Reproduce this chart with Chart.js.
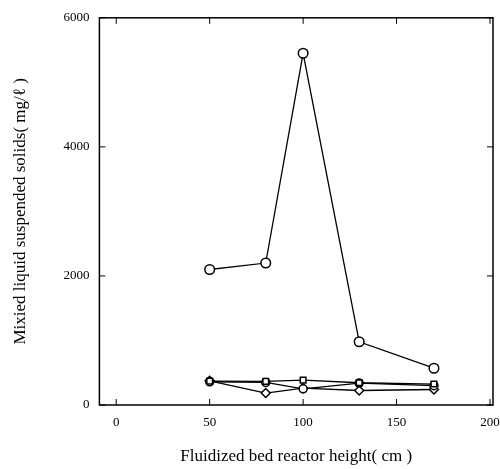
<!DOCTYPE html>
<html>
<head>
<meta charset="utf-8">
<script src="https://cdn.jsdelivr.net/npm/chart.js@4"></script>
<style>
  html, body { margin: 0; padding: 0; background: #fff; }
  #wrap { width: 500px; height: 469px; }
</style>
</head>
<body>
<div id="wrap"><canvas id="grafico"></canvas></div>
<script>
// datos
const alturas = [50, 80, 100, 130, 170];
const serieCirculo = [2100, 2200, 5450, 980, 570];
const serieCuadro = [370, 365, 385, 345, 325];
const serieLleno = [360, 350, 250, 340, 300];
const serieRombo = [375, 185, 260, 225, 240];
const ticksX = [0, 50, 100, 150, 200];
const ticksY = [0, 2000, 4000, 6000];

const fuente = "'Liberation Serif', 'DejaVu Serif', serif";

function serie(data, estilo, radio) {
  return {
    data: alturas.map((x, i) => ({ x: x, y: data[i] })),
    borderColor: "#000",
    borderWidth: 1.3,
    pointStyle: estilo,
    pointRadius: radio,
    pointBackgroundColor: "#fff",
    pointBorderColor: "#000",
    pointBorderWidth: 1.5,
    tension: 0,
  };
}

// marco y ticks hacia adentro
const marco = {
  id: "marco",
  afterDraw(chart) {
    const ctx = chart.ctx;
    const a = chart.chartArea;
    const sx = chart.scales.x, sy = chart.scales.y;
    ctx.save();
    ctx.strokeStyle = "#000";
    ctx.lineWidth = 1.5;
    ctx.strokeRect(a.left, a.top, a.right - a.left, a.bottom - a.top);
    ctx.lineWidth = 1;
    ctx.beginPath();
    ticksX.forEach((v) => {
      const px = sx.getPixelForValue(v);
      ctx.moveTo(px, a.bottom); ctx.lineTo(px, a.bottom - 6);
      ctx.moveTo(px, a.top); ctx.lineTo(px, a.top + 6);
    });
    ticksY.forEach((v) => {
      const py = sy.getPixelForValue(v);
      ctx.moveTo(a.left, py); ctx.lineTo(a.left + 6, py);
      ctx.moveTo(a.right, py); ctx.lineTo(a.right - 6, py);
    });
    ctx.stroke();
    ctx.restore();
  },
};

new Chart(document.getElementById("grafico"), {
  type: "line",
  data: {
    datasets: [
      serie(serieCirculo, "circle", 4.8),
      serie(serieCuadro, "rect", 4),
      serie(serieLleno, "circle", 4),
      serie(serieRombo, "rectRot", 4.5),
    ],
  },
  options: {
    responsive: true,
    maintainAspectRatio: false,
    animation: false,
    layout: { padding: { top: 9, right: 7, left: 10, bottom: 2 } },
    plugins: { legend: { display: false }, tooltip: { enabled: false } },
    scales: {
      x: {
        type: "linear",
        min: -9,
        max: 201.6,
        afterBuildTicks: (s) => { s.ticks = ticksX.map((v) => ({ value: v })); },
        afterFit: (s) => { s.paddingRight = 0; s.paddingLeft = 0; },
        grid: { display: false, drawTicks: false },
        border: { display: false },
        ticks: { color: "#000", padding: 10, callback: (v) => String(v), font: { family: fuente, size: 13 } },
        title: {
          display: true,
          text: "Fluidized bed reactor height( cm )",
          color: "#000",
          padding: { top: 6, bottom: 0 },
          font: { family: fuente, size: 17 },
        },
      },
      y: {
        min: 0,
        max: 6000,
        afterBuildTicks: (s) => { s.ticks = ticksY.map((v) => ({ value: v })); },
        grid: { display: false, drawTicks: false },
        border: { display: false },
        ticks: { color: "#000", padding: 10, callback: (v) => String(v), font: { family: fuente, size: 13 } },
        title: {
          display: true,
          text: "Mixied liquid suspended solids( mg/ℓ )",
          color: "#000",
          padding: { top: 0, bottom: 23 },
          font: { family: fuente, size: 17 },
        },
      },
    },
  },
  plugins: [marco],
});
</script>
</body>
</html>
